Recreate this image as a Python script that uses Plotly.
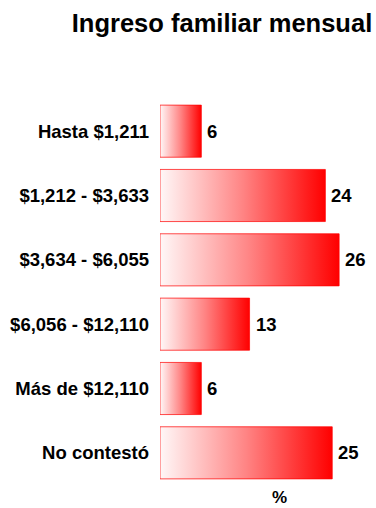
import plotly.graph_objects as go

# Monthly household income brackets and share of respondents (%)
categories = [
    "Hasta $1,211",
    "$1,212 - $3,633",
    "$3,634 - $6,055",
    "$6,056 - $12,110",
    "Más de $12,110",
    "No contestó",
]
values = [6, 24, 26, 13, 6, 25]

FONT = "Liberation Sans, Arial, sans-serif"
BAR_HALF = 0.405

# plot area in pixels: left 160, top 99, width 216, height 386
fig = go.Figure()

# Each bar is a filled rectangle so it can carry a white-to-red horizontal gradient
for i, v in enumerate(values):
    fig.add_trace(go.Scatter(
        x=[0, v, v, 0, 0],
        y=[i - BAR_HALF, i - BAR_HALF, i + BAR_HALF, i + BAR_HALF, i - BAR_HALF],
        mode="lines",
        fill="toself",
        fillgradient=dict(type="horizontal",
                          colorscale=[[0, "#fff8f8"], [0.5, "#ff8484"], [1, "#ff0000"]]),
        line=dict(color="rgba(255,0,0,0.7)", width=1),
        hoverinfo="skip",
        showlegend=False,
    ))
    fig.add_annotation(
        x=v, y=i, xref="x", yref="y",
        text=str(v), showarrow=False,
        xanchor="left", yanchor="middle", xshift=4,
        font=dict(family=FONT, size=18.5, color="black", weight="bold"),
    )

fig.add_annotation(
    x=(279 - 160) / 216, y=(485 - 497) / 386, xref="paper", yref="paper",
    text="%", showarrow=False, xanchor="center", yanchor="middle",
    font=dict(family=FONT, size=17, color="black", weight="bold"),
)

fig.update_layout(
    width=376, height=508,
    margin=dict(l=160, r=0, t=99, b=23),
    paper_bgcolor="white", plot_bgcolor="white",
    title=dict(
        text="Ingreso familiar mensual",
        xref="container", yref="container",
        x=222 / 376, y=1 - 23 / 508, xanchor="center", yanchor="middle",
        font=dict(family=FONT, size=25.5, color="black", weight="bold"),
    ),
    xaxis=dict(range=[0, 31.35], visible=False, fixedrange=True),
    yaxis=dict(
        range=[5.5, -0.5],
        tickvals=list(range(len(categories))),
        ticktext=categories,
        showgrid=False, zeroline=False, showline=False, ticks="",
        ticklabelstandoff=10,
        tickfont=dict(family=FONT, size=18.5, color="black", weight="bold"),
        fixedrange=True,
    ),
)

fig.write_html("out.html")
